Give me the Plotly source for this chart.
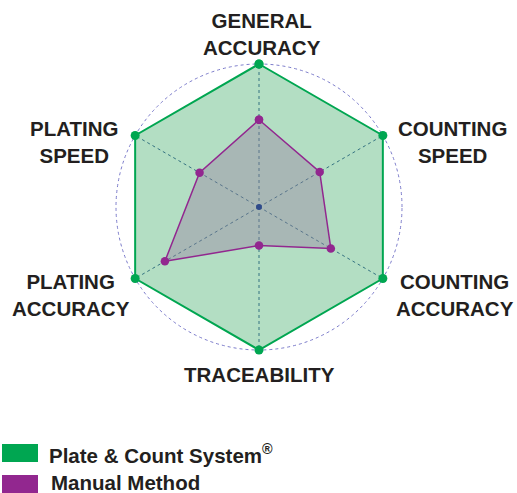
import plotly.graph_objects as go

categories = ["GENERAL ACCURACY", "COUNTING SPEED", "COUNTING ACCURACY",
              "TRACEABILITY", "PLATING ACCURACY", "PLATING SPEED"]
label_text = ["GENERAL<br>ACCURACY", "COUNTING<br>SPEED", "COUNTING<br>ACCURACY",
              "TRACEABILITY", "PLATING<br>ACCURACY", "PLATING<br>SPEED"]
plate_values = [10, 10, 10, 10, 10, 10]
manual_values = [6.1, 4.9, 5.8, 2.7, 7.6, 4.8]
series_names = ["Plate & Count System<sup>®</sup>", "Manual Method"]

W, H = 517, 493
GREEN = "#00A651"
PURPLE = "#92278F"
TEXT = "#231F20"
FONT = "Liberation Sans"
RMAX = 10.15

def closed(v):
    return list(v) + [v[0]]

fig = go.Figure()
fig.add_trace(go.Scatterpolar(
    r=closed(plate_values), theta=closed(categories), mode="lines+markers",
    fill="toself", fillcolor="rgba(38,161,84,0.35)",
    line=dict(color=GREEN, width=2), marker=dict(color=GREEN, size=9),
    name=series_names[0], showlegend=False))
fig.add_trace(go.Scatterpolar(
    r=closed(manual_values), theta=closed(categories), mode="lines+markers",
    fill="toself", fillcolor="rgba(150,120,158,0.38)",
    line=dict(color=PURPLE, width=1.5), marker=dict(color=PURPLE, size=8.5),
    name=series_names[1], showlegend=False))
fig.add_trace(go.Scatterpolar(
    r=[0], theta=[categories[0]], mode="markers",
    marker=dict(color="#2E4A8A", size=6), showlegend=False, hoverinfo="skip"))

cx, cy = 259, 207
R = 143 * RMAX / 10
fig.update_layout(
    width=W, height=H, margin=dict(l=0, r=0, t=0, b=0),
    paper_bgcolor="white", plot_bgcolor="white",
    polar=dict(
        domain=dict(x=[(cx - R) / W, (cx + R) / W], y=[1 - (cy + R) / H, 1 - (cy - R) / H]),
        bgcolor="rgba(0,0,0,0)",
        radialaxis=dict(range=[0, RMAX], visible=True, showline=False, showgrid=True,
                        tickvals=[10], gridcolor="#7C7CCB", griddash="dot", gridwidth=1,
                        showticklabels=False, ticks=""),
        angularaxis=dict(direction="clockwise", rotation=90, categoryorder="array",
                         categoryarray=categories,
                         showline=False,
                         griddash="dot", gridcolor="#3D5A99", gridwidth=1,
                         showticklabels=False, ticks=""),
    ),
)

label_pos = [(262, 34), (452, 142), (455, 295), (259, 374), (71, 295), (74, 142)]
for txt, (px, py) in zip(label_text, label_pos):
    fig.add_annotation(x=px / W, y=1 - py / H, xref="paper", yref="paper",
                       text=txt, showarrow=False, xanchor="center", yanchor="middle",
                       align="center", font=dict(family=FONT, size=20.5, color=TEXT, weight="bold"))

# legend drawn manually
legend_colors = [GREEN, PURPLE]
legend_rows = [(444, 462, 454), (475, 493, 482)]
for name, col, (y0, y1, ym), tx in zip(series_names, legend_colors, legend_rows, [47, 49]):
    fig.add_shape(type="rect", xref="paper", yref="paper",
                  x0=2 / W, x1=38 / W, y0=1 - y1 / H, y1=1 - y0 / H,
                  fillcolor=col, line=dict(width=0))
    fig.add_annotation(x=tx / W, y=1 - ym / H, xref="paper", yref="paper",
                       text=name, showarrow=False, xanchor="left", yanchor="middle",
                       font=dict(family=FONT, size=20.5, color=TEXT, weight="bold"))

fig.write_html("out.html", config={"displayModeBar": False},
               post_script="document.body.style.margin='0';document.body.style.overflow='hidden';")
